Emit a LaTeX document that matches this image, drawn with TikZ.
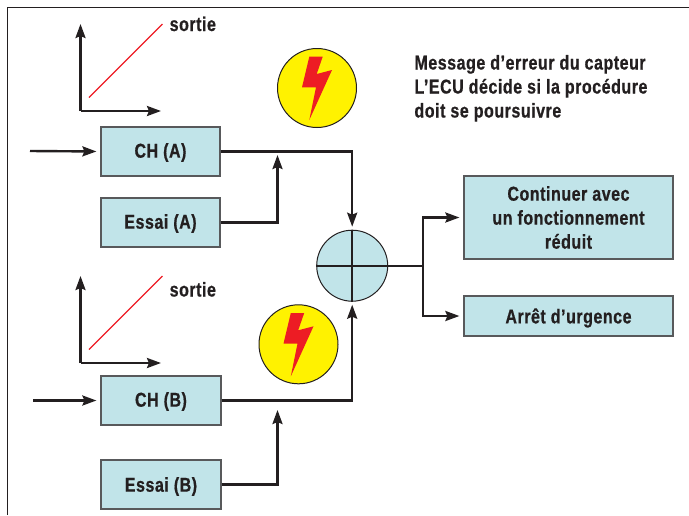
\documentclass[tikz,border=0pt]{standalone}
\usepackage{fontspec}
\setmainfont[FakeStretch=0.80,LetterSpace=2.7,BoldFont={Liberation Sans Bold},BoldFeatures={FakeBold=0.7}]{Liberation Sans}
\usetikzlibrary{arrows.meta}
\definecolor{ink}{HTML}{231F20}
\definecolor{boxfill}{HTML}{C1E4E9}
\definecolor{boxedge}{HTML}{58595B}
\definecolor{warnyellow}{HTML}{FFF200}
\definecolor{boltred}{HTML}{ED1C24}
\newcommand{\lowertext}[2]{\raisebox{-#1}[\height][\depth]{#2}}
\tikzset{
  frameline/.style={draw=ink,line width=1.1pt},
  block/.style={draw=boxedge,line width=1.2pt,fill=boxfill,text=ink,inner sep=0pt,align=center,font=\fontsize{20}{24}\selectfont\bfseries},
  label/.style={text=ink,inner sep=0pt,align=left,font=\fontsize{20}{24}\selectfont\bfseries},
  conn/.style={draw=ink,line width=2.4pt,-{Stealth[length=14pt,width=10pt,inset=2pt]}},
  plainconn/.style={draw=ink,line width=2.4pt},
  axis/.style={draw=ink,line width=2.4pt,-{Stealth[length=14pt,width=10pt,inset=2pt]}},
  response/.style={draw=boltred,line width=1.2pt},
  warn/.style={circle,draw=ink,line width=1pt,fill=warnyellow,minimum size=79pt,inner sep=0pt},
  mixer/.style={circle,draw=ink,line width=1pt,fill=boxfill,minimum size=71pt,inner sep=0pt},
  bolt/.pic={\fill[boltred] (-7.7,-31.3)--(5.7,-31.3)--(-0.3,-14)--(15,-18)--(-7.7,32)--(-1,-0.7)--(-15,-0.7)--cycle;}
}
\begin{document}
\begin{tikzpicture}[x=1pt,y=-1pt]
\useasboundingbox (0,0) rectangle (689,515);
% frame
\coordinate (fb) at (7.5,515);
\coordinate (fc) at (7.5,7.5);
\coordinate (fr) at (689,7.5);
\draw[frameline] (fb)--(fc)--(fr);
% blocks
\node[block,minimum width=119pt,minimum height=49pt] (cha) at (160.5,151.5) {\lowertext{1pt}{CH (A)}};
\node[block,minimum width=119pt,minimum height=49pt] (esa) at (160.5,222.5) {\lowertext{1pt}{Essai (A)}};
\node[block,minimum width=120pt,minimum height=49pt] (chb) at (161,400.5) {\lowertext{1pt}{CH (B)}};
\node[block,minimum width=120pt,minimum height=49pt] (esb) at (161,484.5) {\lowertext{2pt}{Essai (B)}};
\node[block,minimum width=209pt,minimum height=83pt] (cont) at (568.5,217.5) {Continuer avec\\un fonctionnement\\réduit};
\node[block,minimum width=209pt,minimum height=40pt] (stop) at (568.5,316) {\lowertext{2pt}{Arrêt d’urgence}};
\node[mixer] (mix) at (352.2,265.7) {};
\draw[draw=ink,line width=1.8pt] (mix.north)--(mix.south);
\draw[draw=ink,line width=1.8pt] (mix.west)--(mix.east);
% warnings
\node[warn] (wa) at (317,88) {};
\pic at (wa.center) {bolt};
\node[warn] (wb) at (298.5,344.3) {};
\pic at (wb.center) {bolt};
% texts
\node[label,anchor=base west] (sa) at (169.5,31) {sortie};
\node[label,anchor=base west] (sb) at (169.5,296.5) {sortie};
\node[label,anchor=base west] (msg1) at (414.3,69.5) {Message d’erreur du capteur};
\node[label,anchor=base west] (msg2) at (414.3,93.5) {L’ECU décide si la procédure};
\node[label,anchor=base west] (msg3) at (414.3,117.5) {doit se poursuivre};
% graph A
\coordinate (oa) at (80.5,111);
\coordinate (ya) at (80.5,24);
\coordinate (xa) at (161,111);
\draw[axis] (oa)--(ya);
\draw[axis] (oa)--(xa);
\coordinate (ra) at (89,97.5);
\coordinate (rb) at (162.5,24);
\draw[response] (ra)--(rb);
% graph B
\coordinate (ob) at (80.5,363);
\coordinate (yb) at (80.5,276);
\coordinate (xb) at (161,363);
\draw[axis] (ob)--(yb);
\draw[axis] (ob)--(xb);
\coordinate (rc) at (89,349.5);
\coordinate (rd) at (162.5,276);
\draw[response] (rc)--(rd);
% inputs
\coordinate (ia) at (30,151);
\coordinate (ib) at (33,400.5);
\draw[conn,shorten >=4pt] (ia)--(cha.west);
\draw[conn,shorten >=4pt] (ib)--(chb.west);
% connectors
\draw[conn,shorten >=3pt] (cha.east)-|(mix.north);
\draw[conn,shorten >=3pt] (chb.east)-|(mix.south);
\coordinate (ta) at (277.5,155);
\coordinate (tb) at (277.5,410);
\draw[conn] (esa.east)-|(ta);
\draw[conn] (esb.east)-|(tb);
\coordinate (sp) at (423,265.7);
\draw[plainconn] (mix.east)--(sp);
\draw[conn,shorten >=4pt] (sp)|-(cont.west);
\draw[conn,shorten >=4pt] (sp)|-(stop.west);
\end{tikzpicture}
\end{document}
